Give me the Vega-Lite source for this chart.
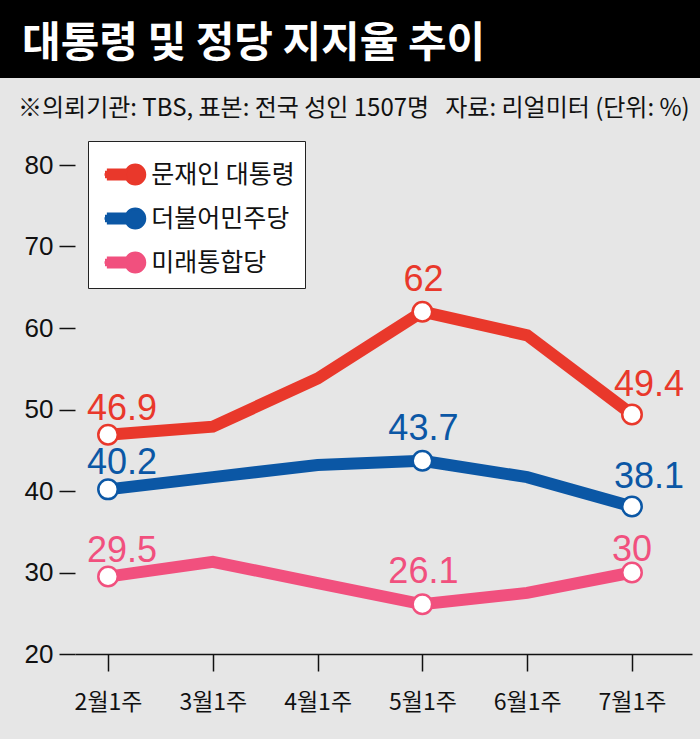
{
  "$schema": "https://vega.github.io/schema/vega-lite/v6.json",
  "background": "#e6e6e6",
  "padding": {"top": 0, "left": 0, "right": 0, "bottom": 40},
  "bounds": "flush",
  "spacing": 0,
  "config": {"view": {"stroke": null}, "axis": {"grid": false}, "concat": {"spacing": 0}},
  "vconcat": [
    {
      "width": 700, "height": 78,
      "view": {"fill": "#000", "stroke": null},
      "title": {"text": "대통령 및 정당 지지율 추이", "orient": "bottom", "anchor": "start", "frame": "group", "offset": -54, "dx": 22, "fontSize": 42, "font": "Noto Sans CJK KR", "fontWeight": "bold", "color": "#ffffff", "baseline": "top"},
      "data": {"values": [{}]},
      "mark": {"type": "point", "opacity": 0}
    },
    {
      "width": 700, "height": 87,
      "title": {"text": "※의뢰기관: TBS, 표본: 전국 성인 1507명\u00a0\u00a0\u00a0자료: 리얼미터 (단위: %)", "orient": "bottom", "anchor": "start", "frame": "group", "offset": -68, "dx": 18, "fontSize": 24, "font": "Noto Sans CJK KR", "fontWeight": "normal", "color": "#111111", "baseline": "top"},
      "data": {"values": [{}]},
      "mark": {"type": "point", "opacity": 0}
    },
    {
      "spacing": 0,
      "bounds": "flush",
      "hconcat": [
        {"width": 75, "height": 489, "data": {"values": [{}]}, "mark": {"type": "point", "opacity": 0}},
        {
          "width": 617, "height": 489,
          "data": {"values": [
            {"week": "2월1주", "party": "문재인 대통령", "value": 46.9, "show": true},
            {"week": "3월1주", "party": "문재인 대통령", "value": 47.9, "show": false},
            {"week": "4월1주", "party": "문재인 대통령", "value": 53.8, "show": false},
            {"week": "5월1주", "party": "문재인 대통령", "value": 62, "show": true},
            {"week": "6월1주", "party": "문재인 대통령", "value": 59.1, "show": false},
            {"week": "7월1주", "party": "문재인 대통령", "value": 49.4, "show": true},
            {"week": "2월1주", "party": "더불어민주당", "value": 40.2, "show": true},
            {"week": "3월1주", "party": "더불어민주당", "value": 41.7, "show": false},
            {"week": "4월1주", "party": "더불어민주당", "value": 43.2, "show": false},
            {"week": "5월1주", "party": "더불어민주당", "value": 43.7, "show": true},
            {"week": "6월1주", "party": "더불어민주당", "value": 41.7, "show": false},
            {"week": "7월1주", "party": "더불어민주당", "value": 38.1, "show": true},
            {"week": "2월1주", "party": "미래통합당", "value": 29.5, "show": true},
            {"week": "3월1주", "party": "미래통합당", "value": 31.3, "show": false},
            {"week": "4월1주", "party": "미래통합당", "value": 28.7, "show": false},
            {"week": "5월1주", "party": "미래통합당", "value": 26.1, "show": true},
            {"week": "6월1주", "party": "미래통합당", "value": 27.5, "show": false},
            {"week": "7월1주", "party": "미래통합당", "value": 30, "show": true}
          ]},
          "encoding": {
            "x": {"field": "week", "type": "ordinal", "sort": ["2월1주", "3월1주", "4월1주", "5월1주", "6월1주", "7월1주"],
              "scale": {"type": "point", "padding": 0.444, "align": 0.355},
              "axis": {"title": null, "labelAngle": 0, "domainColor": "#111111", "domainWidth": 1.5, "tickColor": "#111111", "tickWidth": 1.5, "tickSize": 17, "labelFontSize": 23, "labelFont": "Noto Sans CJK KR", "labelColor": "#111111", "labelPadding": 20}},
            "y": {"field": "value", "type": "quantitative",
              "scale": {"domain": [20, 80], "nice": false, "zero": false},
              "axis": {"title": null, "values": [20, 30, 40, 50, 60, 70, 80], "domain": false, "tickColor": "#111111", "tickWidth": 1.5, "tickSize": 16, "labelFontSize": 26, "labelFont": "Liberation Sans", "labelColor": "#111111", "labelPadding": 6}}
          },
          "layer": [
            {
              "transform": [{"filter": "false"}],
              "mark": {"type": "point", "filled": false, "strokeWidth": 2.5, "opacity": 1},
              "encoding": {
                "color": {"field": "party", "type": "nominal",
                  "scale": {"domain": ["문재인 대통령", "더불어민주당", "미래통합당"], "range": ["#e9382b", "#0b57a5", "#f1507e"]},
                  "legend": {
                    "orient": "none", "legendX": 88, "legendY": 141, "title": null,
                    "symbolType": "M -0.943 0 L 0.011 0 M -0.92 -0.109 L 0.025 -0.109 M -0.92 0.109 L 0.025 0.109 M -0.836 -0.216 L 0.068 -0.216 M -0.836 0.216 L 0.068 0.216 M 0.898 0 A 0.443 0.443 0 1 1 0.011 0 A 0.443 0.443 0 1 1 0.898 0",
                    "symbolSize": 1936, "symbolStrokeWidth": 2.5, "symbolFillColor": "#ffffff", "symbolOffset": 3.75, "labelOffset": 2.5,
                    "labelFontSize": 25, "labelFont": "Noto Sans CJK KR", "labelColor": "#111111", "labelLimit": 400,
                    "padding": 10, "rowPadding": 5, "fillColor": "#ffffff", "strokeColor": "#222222",
                    "encode": {
                      "symbols": {"fill": {"value": "#ffffff"}, "strokeWidth": {"value": 2.5}, "strokeCap": {"value": "round"}},
                      "legend": {"strokeWidth": {"value": 1.5}}
                    }
                  }}
              }
            },
            {
              "mark": {"type": "line"},
              "encoding": {
                "strokeWidth": {"value": 12},
                "stroke": {"field": "party", "type": "nominal",
                  "scale": {"domain": ["문재인 대통령", "더불어민주당", "미래통합당"], "range": ["#e9382b", "#0b57a5", "#f1507e"]},
                  "legend": null}
              }
            },
            {
              "transform": [{"filter": "datum.show"}],
              "mark": {"type": "point", "filled": true, "fill": "#ffffff", "size": 380, "strokeWidth": 2.5, "opacity": 1},
              "encoding": {
                "stroke": {"field": "party", "type": "nominal",
                  "scale": {"domain": ["문재인 대통령", "더불어민주당", "미래통합당"], "range": ["#e9382b", "#0b57a5", "#f1507e"]},
                  "legend": null}
              }
            },
            {
              "transform": [{"filter": "datum.week === '2월1주'"}],
              "mark": {"type": "text", "font": "Liberation Sans", "fontSize": 36, "baseline": "alphabetic", "align": "center", "dx": 14, "dy": -15},
              "encoding": {
                "text": {"field": "value", "type": "quantitative", "format": ".1~f"},
                "fill": {"field": "party", "type": "nominal", "scale": {"domain": ["문재인 대통령", "더불어민주당", "미래통합당"], "range": ["#e9382b", "#0b57a5", "#f1507e"]}, "legend": null}
              }
            },
            {
              "transform": [{"filter": "datum.week === '5월1주'"}],
              "mark": {"type": "text", "font": "Liberation Sans", "fontSize": 36, "baseline": "alphabetic", "align": "center", "dx": 1, "dy": -21},
              "encoding": {
                "text": {"field": "value", "type": "quantitative", "format": ".1~f"},
                "fill": {"field": "party", "type": "nominal", "scale": {"domain": ["문재인 대통령", "더불어민주당", "미래통합당"], "range": ["#e9382b", "#0b57a5", "#f1507e"]}, "legend": null}
              }
            },
            {
              "transform": [{"filter": "datum.week === '7월1주' && datum.party !== '미래통합당'"}],
              "mark": {"type": "text", "font": "Liberation Sans", "fontSize": 36, "baseline": "alphabetic", "align": "center", "dx": 17, "dy": -18},
              "encoding": {
                "text": {"field": "value", "type": "quantitative", "format": ".1~f"},
                "fill": {"field": "party", "type": "nominal", "scale": {"domain": ["문재인 대통령", "더불어민주당", "미래통합당"], "range": ["#e9382b", "#0b57a5", "#f1507e"]}, "legend": null}
              }
            },
            {
              "transform": [{"filter": "datum.week === '7월1주' && datum.party === '미래통합당'"}],
              "mark": {"type": "text", "font": "Liberation Sans", "fontSize": 36, "baseline": "alphabetic", "align": "center", "dx": 0, "dy": -12},
              "encoding": {
                "text": {"field": "value", "type": "quantitative", "format": ".1~f"},
                "fill": {"field": "party", "type": "nominal", "scale": {"domain": ["문재인 대통령", "더불어민주당", "미래통합당"], "range": ["#e9382b", "#0b57a5", "#f1507e"]}, "legend": null}
              }
            }
          ]
        }
      ]
    }
  ]
}
